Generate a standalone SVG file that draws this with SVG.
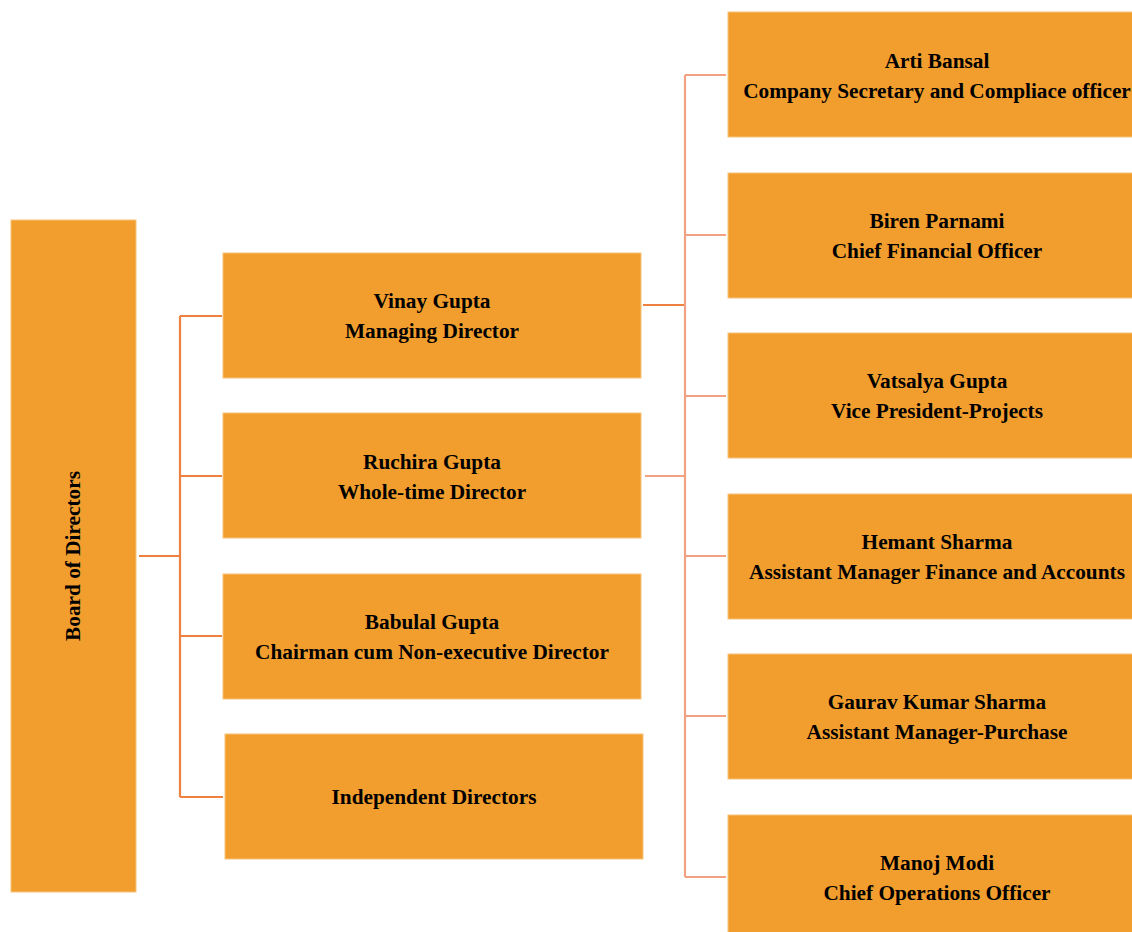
<svg xmlns="http://www.w3.org/2000/svg" width="1132" height="932" viewBox="0 0 1132 932">
<style>
.box{fill:#F29E2E;stroke:#F7C27A;stroke-width:1}
.t{font-family:"Liberation Serif","Times New Roman",serif;font-weight:bold;font-size:21.3px;fill:#000;text-anchor:middle}
.c1{stroke:#EE8040;stroke-width:2.2;fill:none}
.c2{stroke:#F2A283;stroke-width:2.2;fill:none}
</style>
<rect width="1132" height="932" fill="#fff"/>
<g id="connectors">
<path class="c1" d="M139 556H180M180 316V797M180 316H222M180 476H222M180 636H222M180 797H223"/>
<path class="c1" d="M643 305H685" stroke-width="3"/>
<path class="c2" d="M645 476H685M685 75V877M685 75H726M685 235H726M685 396H726M685 556H726M685 716H726M685 877H726"/>
</g>
<g id="board"><rect class="box" x="11" y="220" width="125" height="672"/><text class="t" transform="translate(80,556) rotate(-90)">Board of Directors</text></g>
<g id="vinay"><rect class="box" x="223" y="253" width="418" height="125"/><text class="t" x="432" y="308">Vinay Gupta</text><text class="t" x="432" y="338">Managing Director</text></g>
<g id="ruchira"><rect class="box" x="223" y="413" width="418" height="125"/><text class="t" x="432" y="469">Ruchira Gupta</text><text class="t" x="432" y="499">Whole-time Director</text></g>
<g id="babulal"><rect class="box" x="223" y="574" width="418" height="125"/><text class="t" x="432" y="629">Babulal Gupta</text><text class="t" x="432" y="659">Chairman cum Non-executive Director</text></g>
<g id="independent"><rect class="box" x="225" y="734" width="418" height="125"/><text class="t" x="434" y="804">Independent Directors</text></g>
<g id="arti"><rect class="box" x="728" y="12" width="410" height="125"/><text class="t" x="937" y="68">Arti Bansal</text><text class="t" x="937" y="98">Company Secretary and Compliace officer</text></g>
<g id="biren"><rect class="box" x="728" y="173" width="410" height="125"/><text class="t" x="937" y="228">Biren Parnami</text><text class="t" x="937" y="258">Chief Financial Officer</text></g>
<g id="vatsalya"><rect class="box" x="728" y="333" width="410" height="125"/><text class="t" x="937" y="388">Vatsalya Gupta</text><text class="t" x="937" y="418">Vice President-Projects</text></g>
<g id="hemant"><rect class="box" x="728" y="494" width="410" height="125"/><text class="t" x="937" y="549">Hemant Sharma</text><text class="t" x="937" y="579">Assistant Manager Finance and Accounts</text></g>
<g id="gaurav"><rect class="box" x="728" y="654" width="410" height="125"/><text class="t" x="937" y="709">Gaurav Kumar Sharma</text><text class="t" x="937" y="739">Assistant Manager-Purchase</text></g>
<g id="manoj"><rect class="box" x="728" y="815" width="410" height="125"/><text class="t" x="937" y="870">Manoj Modi</text><text class="t" x="937" y="900">Chief Operations Officer</text></g>
</svg>
